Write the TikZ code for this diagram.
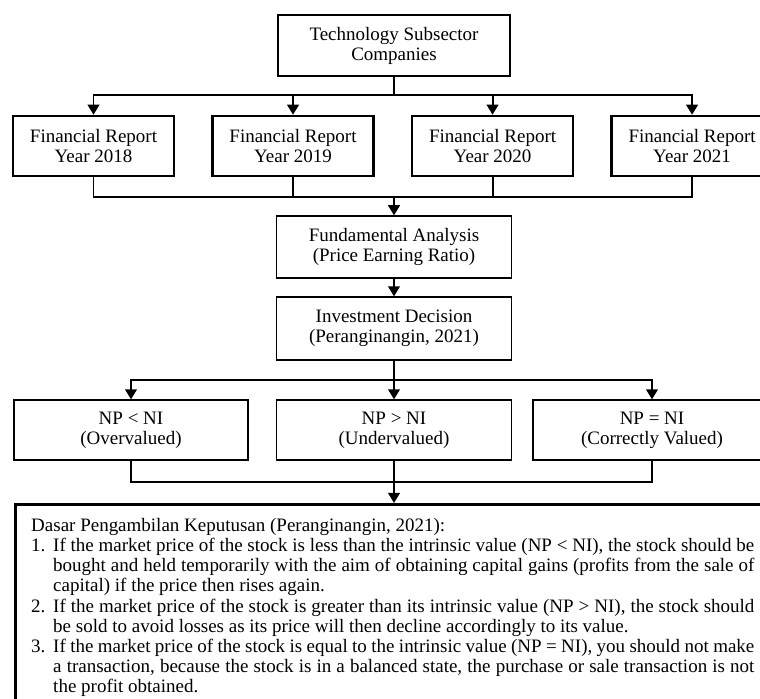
\documentclass[tikz,border=0pt]{standalone}
\usepackage{fontspec}
\setmainfont{Liberation Serif}
\usetikzlibrary{arrows.meta,positioning}

\begin{document}
\begin{tikzpicture}[x=0.632pt,y=-0.632pt,>={Triangle[width=7.4pt,length=6.4pt]},
node distance=126.1pt,line width=1.25pt,
font=\fontsize{12}{12.6}\selectfont]
\tikzstyle{box}=[draw,rectangle,align=center,inner sep=2pt]
\tikzstyle{thickbox}=[box,line width=1.6pt]
\tikzstyle{thinbox}=[box,line width=0.8pt]

\useasboundingbox (0,0) rectangle (760,699);

% top of the chart
\node[thickbox,minimum width=146.6pt,minimum height=38.6pt] (top) at (394,45.5) {Technology Subsector\\Companies};

% one report per year
\node[thickbox,minimum width=101.8pt,minimum height=37.9pt] (fr18) at (93.5,146) {Financial Report\\Year 2018};
\node[thickbox,minimum width=101.8pt,minimum height=37.9pt] (fr19) [right of=fr18] {Financial Report\\Year 2019};
\node[thickbox,minimum width=101.8pt,minimum height=37.9pt] (fr20) [right of=fr19] {Financial Report\\Year 2020};
\node[thickbox,minimum width=101.8pt,minimum height=37.9pt] (fr21) [right of=fr20] {Financial Report\\Year 2021};

\node[thinbox,minimum width=148.5pt,minimum height=39.2pt] (fa) at (394,247) {Fundamental Analysis\\(Price Earning Ratio)};
\node[thinbox,minimum width=148.5pt,minimum height=39.8pt] (id) at (394,328.5) {Investment Decision\\(Peranginangin, 2021)};

% three outcomes
\node[thinbox,minimum width=147.9pt,minimum height=37.9pt] (np1) at (131,430) {NP < NI\\(Overvalued)};
\node[thinbox,minimum width=148.5pt,minimum height=37.9pt] (np2) at (394,430) {NP > NI\\(Undervalued)};
\node[thinbox,minimum width=150.4pt,minimum height=37.9pt] (np3) at (652,430) {NP = NI\\(Correctly Valued)};

\node[thickbox,anchor=north west,inner xsep=10.1pt,inner ysep=9pt] (dasar) at (14,503) {%
\parbox[t][160pt][t]{457pt}{\fontsize{12}{12.6}\selectfont\baselineskip=12.7pt
Dasar Pengambilan Keputusan (Peranginangin, 2021):\par
\hangindent=13.9pt\hangafter=1\noindent\makebox[13.9pt][l]{1.}If the market price of the stock is less than the intrinsic value (NP < NI), the stock should be\linebreak
bought and held temporarily with the aim of obtaining capital gains (profits from the sale of\linebreak
capital) if the price then rises again.\par
\hangindent=13.9pt\hangafter=1\noindent\makebox[13.9pt][l]{2.}If the market price of the stock is greater than its intrinsic value (NP > NI), the stock should\linebreak
be sold to avoid losses as its price will then decline accordingly to its value.\par
\hangindent=13.9pt\hangafter=1\noindent\makebox[13.9pt][l]{3.}If the market price of the stock is equal to the intrinsic value (NP = NI), you should not make\linebreak
a transaction, because the stock is in a balanced state, the purchase or sale transaction is not\linebreak
the profit obtained.\par}};

% connectors
\coordinate (s1) at (394,95);
\coordinate (s2) at (394,197);
\coordinate (s3) at (394,380);
\coordinate (s4) at (394,482);

\draw (top) -- (s1);
\draw[->] (s1) -| (fr18);
\draw[->] (s1) -| (fr19);
\draw[->] (s1) -| (fr20);
\draw[->] (s1) -| (fr21);

\draw (fr18) |- (s2);
\draw (fr19) |- (s2);
\draw (fr20) |- (s2);
\draw (fr21) |- (s2);
\draw[->] (s2) -- (fa);
\draw[->] (fa) -- (id);

\draw (id) -- (s3);
\draw[->] (s3) -| (np1);
\draw[->] (s3) -- (np2);
\draw[->] (s3) -| (np3);

\draw (np1) |- (s4);
\draw (np3) |- (s4);
\draw[->] (np2) -- (np2 |- dasar.north);
\end{tikzpicture}
\end{document}
